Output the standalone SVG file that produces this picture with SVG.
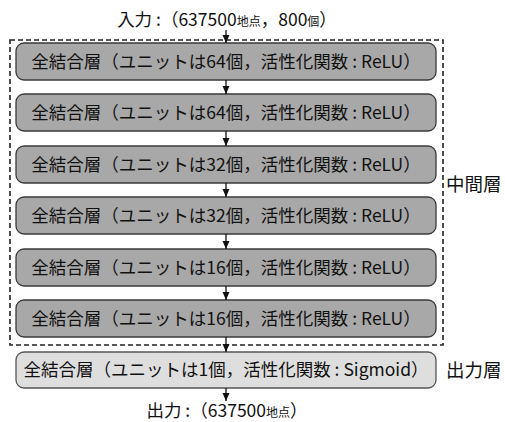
<svg xmlns="http://www.w3.org/2000/svg" width="505" height="422" viewBox="0 0 505 422">
<defs>
<style>
text{font-family:"Noto Sans CJK JP","Liberation Sans",sans-serif;fill:#111;}
.t{font-size:17.5px;text-anchor:middle;}
.s{font-size:12px;}
.lbl{font-size:18.5px;}
.mid rect{fill:#a8a8a8;stroke:#3a3a3a;stroke-width:1.3;}
.out rect{fill:#dedede;stroke:#555;stroke-width:1.3;}
.c line{stroke:#111;stroke-width:1.3;}
</style>
<marker id="ah" viewBox="0 0 8 8" refX="8" refY="4" markerWidth="8" markerHeight="8" markerUnits="userSpaceOnUse" orient="auto">
<path d="M0,0.5 L8,4 L0,7.5 Z" fill="#111"/>
</marker>
</defs>
<rect x="10" y="40" width="433" height="305" fill="none" stroke="#222" stroke-width="1.6" stroke-dasharray="5,3"/>
<text class="t" x="227" y="26">入力 :（637500<tspan class="s">地点</tspan>，800<tspan class="s">個</tspan>）</text>
<text class="t" x="227" y="417">出力 :（637500<tspan class="s">地点</tspan>）</text>
<g id="n1" class="mid"><rect x="16" y="43" width="420" height="37" rx="8"/><text class="t" x="226" y="67.5">全結合層（ユニットは64個，活性化関数 : ReLU）</text></g>
<g id="n2" class="mid"><rect x="16" y="94" width="420" height="37" rx="8"/><text class="t" x="226" y="118.5">全結合層（ユニットは64個，活性化関数 : ReLU）</text></g>
<g id="n3" class="mid"><rect x="16" y="146" width="420" height="37" rx="8"/><text class="t" x="226" y="170.5">全結合層（ユニットは32個，活性化関数 : ReLU）</text></g>
<g id="n4" class="mid"><rect x="16" y="197" width="420" height="37" rx="8"/><text class="t" x="226" y="221.5">全結合層（ユニットは32個，活性化関数 : ReLU）</text></g>
<g id="n5" class="mid"><rect x="16" y="249" width="420" height="37" rx="8"/><text class="t" x="226" y="273.5">全結合層（ユニットは16個，活性化関数 : ReLU）</text></g>
<g id="n6" class="mid"><rect x="16" y="300" width="420" height="37" rx="8"/><text class="t" x="226" y="324.5">全結合層（ユニットは16個，活性化関数 : ReLU）</text></g>
<g id="n7" class="out"><rect x="16" y="352" width="420" height="36" rx="8"/><text class="t" x="226" y="376">全結合層（ユニットは1個，活性化関数 : Sigmoid）</text></g>
<g id="lab1"><text class="lbl" x="446" y="191">中間層</text></g>
<g id="lab2"><text class="lbl" x="446" y="377">出力層</text></g>
<g id="connectors" class="c">
<line x1="226" y1="30" x2="226" y2="43" marker-end="url(#ah)"/>
<line x1="226" y1="80" x2="226" y2="94" marker-end="url(#ah)"/>
<line x1="226" y1="131" x2="226" y2="146" marker-end="url(#ah)"/>
<line x1="226" y1="183" x2="226" y2="197" marker-end="url(#ah)"/>
<line x1="226" y1="234" x2="226" y2="249" marker-end="url(#ah)"/>
<line x1="226" y1="286" x2="226" y2="300" marker-end="url(#ah)"/>
<line x1="226" y1="337" x2="226" y2="352" marker-end="url(#ah)"/>
<line x1="226" y1="388" x2="226" y2="401" marker-end="url(#ah)"/>
</g>
</svg>
